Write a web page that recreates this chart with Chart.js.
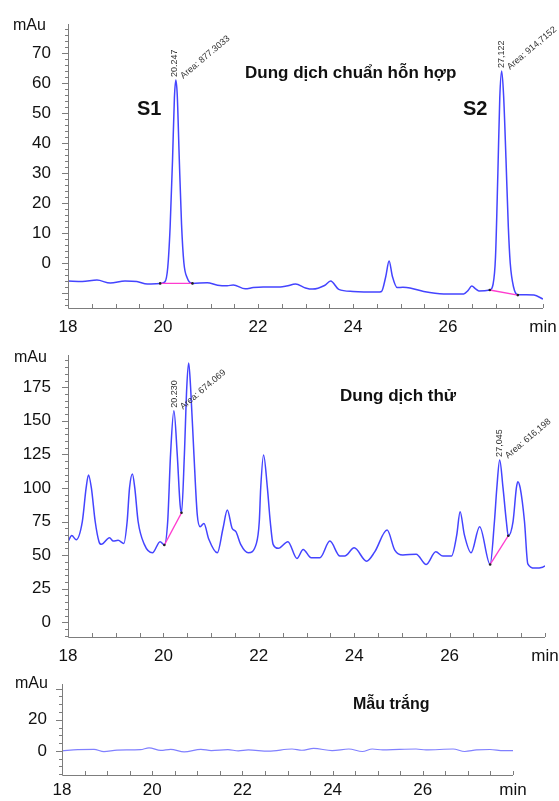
<!DOCTYPE html>
<html>
<head>
<meta charset="utf-8">
<script src="https://cdn.jsdelivr.net/npm/chart.js@4.4.1/dist/chart.umd.min.js"></script>
<style>
  body { margin: 0; background: #fff; width: 559px; height: 801px; position: relative; overflow: hidden;
         font-family: "Liberation Sans", Arial, sans-serif; }
  canvas { position: absolute; left: 0; }
  .lbl { position: absolute; white-space: nowrap; color: #111; line-height: 1; transform: translateY(-50%); }
  .unit { font-size: 16px; }
  .title { font-size: 17px; font-weight: bold; }
  .peak { font-size: 20px; font-weight: bold; }
</style>
</head>
<body>
<canvas id="std" width="559" height="340" style="top:0"></canvas>
<canvas id="sample" width="559" height="330" style="top:340px"></canvas>
<canvas id="blank" width="559" height="131" style="top:670px"></canvas>

<div class="lbl unit" style="left:13px;top:25px">mAu</div>
<div class="lbl title" style="left:245px;top:72px">Dung dịch chuẩn hỗn hợp</div>
<div class="lbl peak" style="left:137px;top:108px">S1</div>
<div class="lbl peak" style="left:463px;top:108px">S2</div>

<div class="lbl unit" style="left:14px;top:357px">mAu</div>
<div class="lbl title" style="left:340px;top:395px">Dung dịch thử</div>

<div class="lbl unit" style="left:15px;top:683px">mAu</div>
<div class="lbl title" style="left:353px;top:704px;font-size:16px">Mẫu trắng</div>

<script>
// retention time (min) / signal (mAu)
const stdTime = [18.00, 18.30, 18.61, 18.89, 19.20, 19.45, 19.67, 19.94, 20.04, 20.10, 20.15, 20.20, 20.24, 20.27,
  20.30, 20.34, 20.39, 20.44, 20.51, 20.62, 20.93, 21.15, 21.35, 21.48, 21.73, 21.90, 22.11, 22.47, 22.60, 22.79,
  23.00, 23.15, 23.40, 23.53, 23.70, 24.00, 24.52, 24.60, 24.69, 24.76, 24.83, 24.93, 25.05, 25.20, 25.49, 25.91,
  26.33, 26.42, 26.50, 26.58, 26.65, 26.88, 26.95, 27.00, 27.05, 27.09, 27.13, 27.17, 27.22, 27.27, 27.31, 27.38,
  27.47, 27.65, 27.81, 28.00];
const stdSignal = [-6.0, -6.2, -5.7, -6.7, -6.0, -6.2, -7.0, -6.8, -6.3, -1.5, 12, 34, 55, 61,
  56, 36, 13, 0, -5.0, -6.8, -6.6, -7.4, -7.6, -7.3, -8.6, -8.2, -8.0, -8.0, -7.7, -7.0,
  -8.3, -8.7, -7.5, -6.0, -8.8, -9.5, -9.7, -9.5, -4.5, 0.7, -4.5, -8.2, -8.1, -8.3, -9.5, -10.3,
  -10.3, -9.2, -7.7, -8.6, -9.3, -9.0, -7.0, 2, 30, 55, 64, 56, 35, 12, 0, -8,
  -10.6, -10.6, -10.7, -12.0];

const sampleTime = [18.00, 18.08, 18.17, 18.30, 18.38, 18.43, 18.49, 18.57, 18.65, 18.70, 18.87, 18.95, 19.05, 19.17,
  19.24, 19.29, 19.35, 19.40, 19.47, 19.60, 19.77, 19.93, 20.02, 20.09, 20.15, 20.22, 20.29, 20.35, 20.38, 20.44,
  20.49, 20.53, 20.57, 20.64, 20.71, 20.77, 20.85, 20.95, 21.13, 21.25, 21.34, 21.44, 21.52, 21.62, 21.78, 21.95,
  22.01, 22.04, 22.10, 22.18, 22.24, 22.30, 22.41, 22.61, 22.80, 22.93, 23.10, 23.28, 23.49, 23.70, 23.80, 24.00,
  24.26, 24.43, 24.69, 24.85, 25.02, 25.30, 25.51, 25.71, 25.86, 26.04, 26.15, 26.22, 26.31, 26.45, 26.63, 26.85,
  26.94, 26.99, 27.05, 27.12, 27.19, 27.23, 27.33, 27.40, 27.43, 27.48, 27.57, 27.64, 27.78, 27.95, 28.00];
const sampleSignal = [60, 64.5, 61.5, 75, 100, 109.7, 100, 75, 60, 58, 62.9, 60.4, 61, 58.7,
  75, 100, 110.4, 100, 75, 58, 51.7, 60, 57.5, 75, 125, 157.4, 125, 87.5, 81.5, 125,
  175, 193, 175, 125, 80, 71.1, 73.6, 62, 51.7, 70, 83.6, 70, 67.5, 58, 51.7, 58.7,
  75, 100, 124.6, 100, 75, 58, 55, 60, 47.5, 54.2, 48, 48, 60.4, 49.3, 49.3, 55.4,
  45.5, 52.4, 68.6, 53.7, 50, 50.7, 43, 52.4, 49.3, 49.3, 65, 82.3, 65, 51.7, 71.1, 43,
  75, 100, 120.9, 100, 75, 64.4, 75, 100, 104.7, 100, 75, 43.5, 40.3, 41, 42];

const blankTime = [18.00, 18.35, 18.71, 18.93, 19.22, 19.74, 19.93, 20.19, 20.41, 20.71, 21.08, 21.31, 21.68, 21.91,
  22.13, 22.58, 23.10, 23.32, 23.58, 23.99, 24.36, 24.66, 24.88, 25.11, 25.48, 25.85, 26.07, 26.67, 26.93, 27.19,
  27.49, 27.79, 28.00];
const blankSignal = [0, 0.8, 1.0, -0.5, 0.5, 0.8, 2.0, 0.3, 1.0, -0.6, 1.0, 0.2, 0.8, 0,
  0.6, -0.2, 1.2, 0.4, 1.6, 0.2, 1.2, -0.4, 1.2, 0.6, 1.0, 1.2, 0.6, 1.2, -0.4, 0.6,
  0.9, 0.2, 0.2];

// integration baselines (magenta) as [start, end]
const stdBaseTime = [[19.94, 20.62], [26.88, 27.47]];
const stdBaseSignal = [[-6.8, -6.8], [-9.0, -10.7]];
const sampleBaseTime = [[20.02, 20.38], [26.85, 27.23]];
const sampleBaseSignal = [[57.5, 81.5], [43, 64.4]];

// peak annotations
const stdPeakRT = [20.247, 27.122];
const stdPeakHeight = [61, 64];
const stdPeakText = ['20.247', '27,122'];
const stdPeakArea = ['Area: 877.3033', 'Area: 914,7152'];
const samplePeakRT = [20.230, 27.045];
const samplePeakHeight = [157.4, 120.9];
const samplePeakText = ['20.230', '27,045'];
const samplePeakArea = ['Area: 674.069', 'Area: 616,198'];

// axis labels
const timeTicks = [18, 20, 22, 24, 26, 28];
const stdYLabels = [0, 10, 20, 30, 40, 50, 60, 70];
const sampleYLabels = [0, 25, 50, 75, 100, 125, 150, 175];
const blankYLabels = [0, 20];

Chart.defaults.font.family = '"Liberation Sans", Arial, sans-serif';

function axisPlugin(o) {
  return {
    id: 'axisTicks',
    afterDraw(chart) {
      const { ctx, chartArea: a, scales: { x, y } } = chart;
      ctx.save();
      ctx.strokeStyle = '#7d7d7d';
      ctx.lineWidth = 1;
      ctx.beginPath();
      ctx.moveTo(a.left + 0.5, a.top);
      ctx.lineTo(a.left + 0.5, a.bottom + 0.5);
      ctx.lineTo(a.right, a.bottom + 0.5);
      const first = Math.ceil(y.min / o.yMinor);
      const last = Math.floor(y.max / o.yMinor);
      for (let k = first; k <= last; k++) {
        const v = k * o.yMinor;
        const py = Math.round(y.getPixelForValue(v)) + 0.5;
        const major = (v % o.yMajor) === 0;
        ctx.moveTo(a.left, py);
        ctx.lineTo(a.left - (major ? 6 : 3), py);
      }
      for (let k = 0; k <= 20; k++) {
        const px = Math.round(x.getPixelForValue(18 + k * 0.5)) + 0.5;
        ctx.moveTo(px, a.bottom);
        ctx.lineTo(px, a.bottom - 4);
      }
      ctx.stroke();

      ctx.fillStyle = '#333';
      ctx.font = '9px "Liberation Sans", Arial, sans-serif';
      ctx.textAlign = 'left';
      ctx.textBaseline = 'middle';
      (o.peakRT || []).forEach((rt, i) => {
        const px = x.getPixelForValue(rt);
        const py = y.getPixelForValue(o.peakHeight[i]) - 3;
        ctx.save();
        ctx.translate(px, py);
        ctx.rotate(-Math.PI / 2);
        ctx.fillText(o.peakText[i], 0, 0);
        ctx.restore();
        ctx.save();
        ctx.translate(px + 7, py);
        ctx.rotate(-0.7);
        ctx.fillText(o.peakArea[i], 0, 0);
        ctx.restore();
      });
      ctx.restore();
    }
  };
}

function panel(id, o) {
  const datasets = [{
    data: o.time.map((t, i) => ({ x: t, y: o.signal[i] })),
    borderColor: o.color,
    borderWidth: o.width,
    pointRadius: 0,
    cubicInterpolationMode: 'monotone',
    order: 2
  }];
  (o.baseTime || []).forEach((bt, k) => datasets.push({
    data: bt.map((t, i) => ({ x: t, y: o.baseSignal[k][i] })),
    borderColor: '#ff3ccf',
    borderWidth: 1.4,
    pointRadius: 1.3,
    pointBorderWidth: 0,
    pointBackgroundColor: '#222',
    order: 1
  }));

  return new Chart(document.getElementById(id), {
    type: 'line',
    data: { datasets },
    options: {
      responsive: false,
      animation: false,
      events: [],
      layout: { padding: o.pad },
      plugins: { legend: { display: false }, tooltip: { enabled: false } },
      scales: {
        x: {
          type: 'linear', min: 18, max: 28,
          afterBuildTicks: s => { s.ticks = timeTicks.map(v => ({ value: v })); },
          afterFit: s => { s.height = o.xH; s.paddingLeft = 0; s.paddingRight = 0; },
          ticks: {
            autoSkip: false, maxRotation: 0, color: '#111',
            font: { size: 17 }, padding: o.xPad,
            callback: v => v === 28 ? 'min' : v
          },
          grid: { display: false, drawTicks: false },
          border: { display: false }
        },
        y: {
          min: o.yMin, max: o.yMax,
          afterBuildTicks: s => { s.ticks = o.yLabels.map(v => ({ value: v })); },
          afterFit: s => { s.width = o.yW; s.paddingTop = 0; s.paddingBottom = 0; },
          ticks: {
            autoSkip: false, color: '#111',
            font: { size: 17 }, padding: o.yPad
          },
          grid: { display: false, drawTicks: false },
          border: { display: false }
        }
      }
    },
    plugins: [axisPlugin(o)]
  });
}

panel('std', {
  time: stdTime, signal: stdSignal, color: '#4444ff', width: 1.5,
  baseTime: stdBaseTime, baseSignal: stdBaseSignal,
  peakRT: stdPeakRT, peakHeight: stdPeakHeight, peakText: stdPeakText, peakArea: stdPeakArea,
  yMin: -15, yMax: 79.7, yMajor: 10, yMinor: 2, yLabels: stdYLabels,
  pad: { top: 24, right: 16, left: 0, bottom: 0 }, xH: 32, yW: 68, xPad: 9, yPad: 17
});

panel('sample', {
  time: sampleTime, signal: sampleSignal, color: '#4444ff', width: 1.5,
  baseTime: sampleBaseTime, baseSignal: sampleBaseSignal,
  peakRT: samplePeakRT, peakHeight: samplePeakHeight, peakText: samplePeakText, peakArea: samplePeakArea,
  yMin: -11, yMax: 199, yMajor: 25, yMinor: 5, yLabels: sampleYLabels,
  pad: { top: 15, right: 14, left: 0, bottom: 0 }, xH: 33, yW: 68, xPad: 9, yPad: 17
});

panel('blank', {
  time: blankTime, signal: blankSignal, color: '#8080ff', width: 1.2,
  yMin: -15.5, yMax: 43, yMajor: 20, yMinor: 5, yLabels: blankYLabels,
  pad: { top: 14, right: 46, left: 0, bottom: 0 }, xH: 26, yW: 62, xPad: 5, yPad: 15
});
</script>
</body>
</html>
